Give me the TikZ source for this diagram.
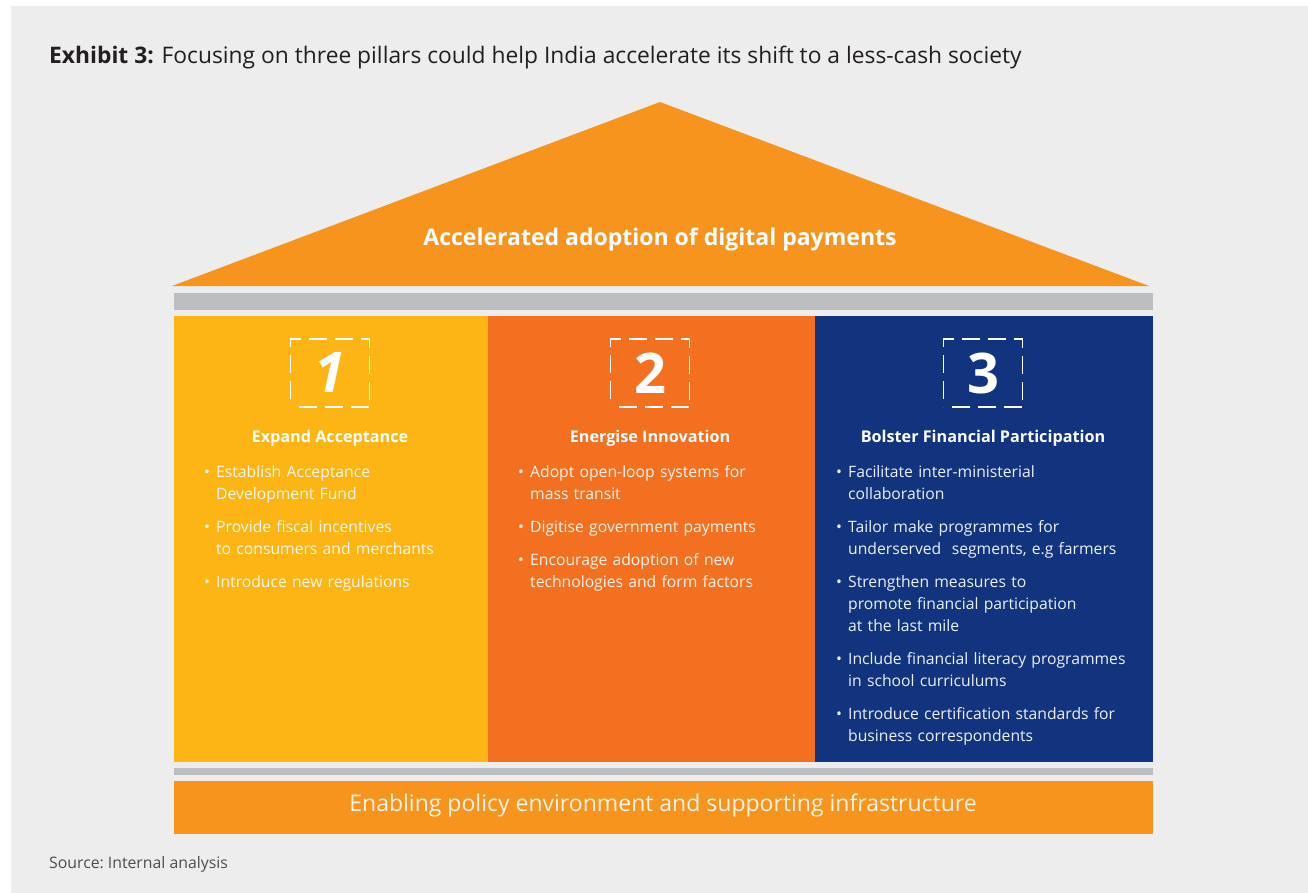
\documentclass[tikz,border=0pt]{standalone}
\usepackage{fontspec}
\setmainfont{Open Sans}
\usetikzlibrary{positioning,decorations}
\definecolor{ExhibitBack}{HTML}{EDEDED}
\definecolor{RoofOrange}{HTML}{F7941E}
\definecolor{PillarYellow}{HTML}{FDB515}
\definecolor{PillarOrange}{HTML}{F37021}
\definecolor{PillarBlue}{HTML}{12347E}
\definecolor{BeamGrey}{HTML}{BCBEC0}
\definecolor{SourceGrey}{HTML}{4D4D4D}
\definecolor{TitleInk}{HTML}{231F20}
\newcommand{\pillaritem}[1]{\par\hangindent=12pt\hangafter=1\noindent\strut\makebox[12pt][l]{\textbullet}#1\par\vspace{11pt}}

\begin{document}
\begin{tikzpicture}[x=1pt,y=-1pt,
  heading/.style={text=white,inner sep=0pt,font=\bfseries\fontsize{16.2}{20}\selectfont},
  numbox/.style={draw=white,line width=1.6pt,dash pattern=on 18pt off 7pt,dash expand off,
    minimum width=79pt,minimum height=68pt,inner sep=0pt,text=white,
    font=\bfseries\fontsize{56}{60}\selectfont},
  points/.style={anchor=north west,inner sep=0pt,text width=310pt,align=left,
    font=\fontsize{15.7}{22}\selectfont}]
  \useasboundingbox (0,0) rectangle (1308,893);
  \fill[white] (0,0) rectangle (1308,893);
  \fill[ExhibitBack] (11,6) rectangle (1308,893);
  % title and source
  \node[anchor=base west,inner sep=0pt,text=TitleInk,font=\fontsize{22.8}{26}\selectfont] (title) at (49,64)
    {\textbf{Exhibit 3:} Focusing on three pillars could help India accelerate its shift to a less-cash society};
  \node[anchor=base west,inner sep=0pt,text=SourceGrey,font=\frenchspacing\fontsize{15.8}{18}\selectfont] (source) at (49,868)
    {Source: Internal analysis};
  % roof and beams
  \fill[RoofOrange] (172,286) -- (660,102) -- (1149,286) -- cycle;
  \node[text=white,font=\bfseries\fontsize{23}{26}\selectfont] (roof) at (660,239) {Accelerated adoption of digital payments};
  \fill[BeamGrey] (174,293) rectangle (1153,310);
  \fill[BeamGrey] (174,768) rectangle (1153,775);
  % pillars
  \fill[PillarYellow] (174,316) rectangle (488,762);
  \fill[PillarOrange] (488,316) rectangle (815,762);
  \fill[PillarBlue] (815,316) rectangle (1153,762);
  \node[numbox] (one) at (330,373) {\itshape 1};
  \node[numbox] (two) at (650,373) {2};
  \node[numbox] (three) at (983,373) {3};
  \node[heading] (expand) at (330,438) {Expand Acceptance};
  \node[heading] (energise) at (650,438) {Energise Innovation};
  \node[heading] (bolster) at (983,438) {Bolster Financial Participation};
  \node[points,text=white!92!PillarYellow] (expandpts) at (204,455) {%
    \pillaritem{Establish Acceptance\newline Development Fund}
    \pillaritem{Provide fiscal incentives\newline to consumers and merchants}
    \pillaritem{Introduce new regulations}};
  \node[points,text=white!92!PillarOrange] (energisepts) at (518,455) {%
    \pillaritem{Adopt open-loop systems for\newline mass transit}
    \pillaritem{Digitise government payments}
    \pillaritem{Encourage adoption of new\newline technologies and form factors}};
  \node[points,text=white!92!PillarBlue] (bolsterpts) at (836,455) {%
    \pillaritem{Facilitate inter-ministerial\newline collaboration}
    \pillaritem{Tailor make programmes for\newline underserved\ \ segments, e.g farmers}
    \pillaritem{Strengthen measures to\newline promote financial participation\newline at the last mile}
    \pillaritem{Include financial literacy programmes\newline in school curriculums}
    \pillaritem{Introduce certification standards for\newline business correspondents}};
  % foundation
  \fill[RoofOrange] (174,781) rectangle (1153,834);
  \node[text=white!90!RoofOrange,font=\fontsize{23}{28}\selectfont] (base) at (663,805)
    {Enabling policy environment and supporting infrastructure};
\end{tikzpicture}
\end{document}
